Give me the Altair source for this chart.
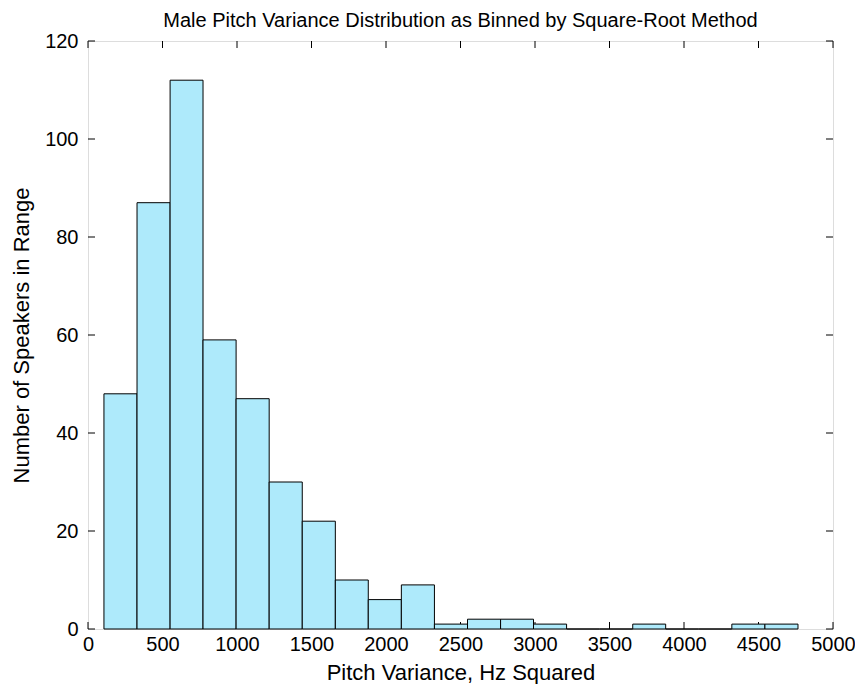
import altair as alt
import pandas as pd

# Histogram bins (Hz^2) and counts
bin_start = [107, 329, 551, 772, 994, 1216, 1438, 1660, 1881, 2103, 2325,
             2547, 2769, 2990, 3212, 3434, 3656, 3877, 4099, 4321, 4543]
bin_end = bin_start[1:] + [4765]
counts = [48, 87, 112, 59, 47, 30, 22, 10, 6, 9, 1,
          2, 2, 1, 0, 0, 1, 0, 0, 1, 1]
x_ticks = list(range(0, 5001, 500))
y_ticks = list(range(0, 121, 20))

title_text = "Male Pitch Variance Distribution as Binned by Square-Root Method"
x_title = "Pitch Variance, Hz Squared"
y_title = "Number of Speakers in Range"

W, H = 745, 588
TL = 7
FONT = "Liberation Sans"

df = pd.DataFrame({"start": bin_start, "end": bin_end, "count": counts})
xt = pd.DataFrame({"v": x_ticks})
yt = pd.DataFrame({"v": y_ticks})

xscale = alt.Scale(domain=[0, 5000], nice=False, zero=False)
yscale = alt.Scale(domain=[0, 120], nice=False)

xaxis = alt.Axis(values=x_ticks, format="d", tickSize=0, domain=False, grid=False,
                 labelFont=FONT, labelFontSize=20, labelColor="black",
                 labelPadding=5, titleFont=FONT, titleFontSize=22,
                 titleFontWeight="normal", titleColor="black", titlePadding=8,
                 labelFlush=False)
yaxis = alt.Axis(values=y_ticks, format="d", tickSize=0, domain=False, grid=False,
                 labelFont=FONT, labelFontSize=20, labelColor="black",
                 labelPadding=10, titleFont=FONT, titleFontSize=22,
                 titleFontWeight="normal", titleColor="black", titlePadding=11,
                 labelFlush=False)

bars = alt.Chart(df).mark_bar(fill="#AEEAFB", stroke="black", strokeWidth=1).encode(
    x=alt.X("start:Q", scale=xscale, axis=xaxis, title=x_title),
    x2="end:Q",
    y=alt.Y("count:Q", scale=yscale, axis=yaxis, title=y_title),
    y2=alt.datum(0),
)

xb = alt.Chart(xt).mark_rule(color="black", strokeWidth=1).encode(
    x=alt.X("v:Q", scale=xscale, title=x_title),
    y=alt.value(H), y2=alt.value(H - TL))
xtop = alt.Chart(xt).mark_rule(color="black", strokeWidth=1).encode(
    x=alt.X("v:Q", scale=xscale, title=x_title),
    y=alt.value(0), y2=alt.value(TL))
yl = alt.Chart(yt).mark_rule(color="black", strokeWidth=1).encode(
    y=alt.Y("v:Q", scale=yscale, title=y_title),
    x=alt.value(0), x2=alt.value(TL))
yr = alt.Chart(yt).mark_rule(color="black", strokeWidth=1).encode(
    y=alt.Y("v:Q", scale=yscale, title=y_title),
    x=alt.value(W - TL), x2=alt.value(W))

chart = alt.layer(xb, xtop, yl, yr, bars).properties(
    width=W, height=H,
    title=alt.TitleParams(title_text, font=FONT, fontSize=20, fontWeight="normal",
                          color="black", anchor="middle", offset=0),
    autosize=alt.AutoSizeParams(type="none"),
    padding={"left": 80, "top": 33, "right": 22, "bottom": 55},
).configure_view(stroke="black", strokeWidth=1).configure(background="white")

chart.save("out.html", embed_options={"renderer": "svg", "actions": False})
